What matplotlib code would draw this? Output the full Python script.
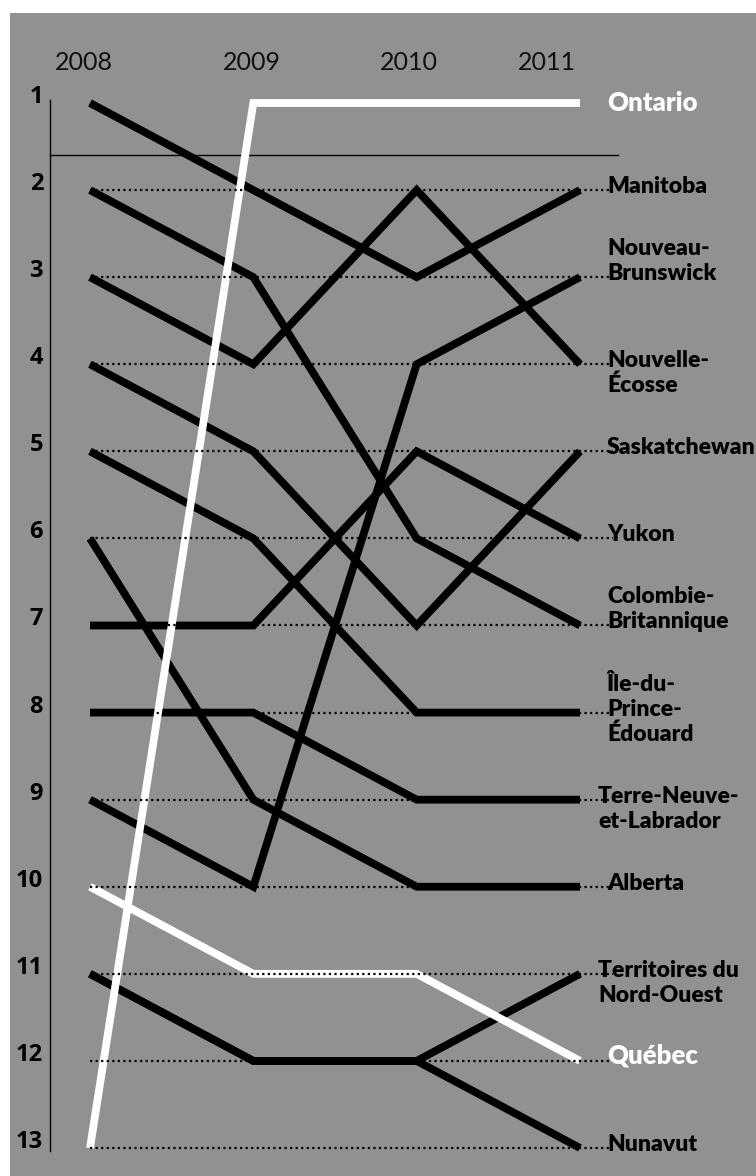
import matplotlib
matplotlib.use("Agg")
import matplotlib.pyplot as plt

# ---------------- data ----------------
years = [2008, 2009, 2010, 2011]
provinces = ["Ontario", "Manitoba", "Nouveau-\nBrunswick", "Nouvelle-\nÉcosse",
             "Saskatchewan", "Yukon", "Colombie-\nBritannique",
             "Île-du-\nPrince-\nÉdouard", "Terre-Neuve-\net-Labrador", "Alberta",
             "Territoires du\nNord-Ouest", "Québec", "Nunavut"]
ranks = [
    [13, 1, 1, 1],     # Ontario
    [1, 2, 3, 2],      # Manitoba
    [9, 10, 4, 3],     # Nouveau-Brunswick
    [3, 4, 2, 4],      # Nouvelle-Écosse
    [4, 5, 7, 5],      # Saskatchewan
    [7, 7, 5, 6],      # Yukon
    [2, 3, 6, 7],      # Colombie-Britannique
    [5, 6, 8, 8],      # Île-du-Prince-Édouard
    [8, 8, 9, 9],      # Terre-Neuve-et-Labrador
    [6, 9, 10, 10],    # Alberta
    [11, 12, 12, 11],  # Territoires du Nord-Ouest
    [10, 11, 11, 12],  # Québec
    [11, 12, 12, 13],  # Nunavut
]
highlight = ["Ontario", "Québec"]
rank_ticks = list(range(1, 14))

# ---------------- style ----------------
BG = "#919191"
W, H, DPI = 756, 1176, 100
anchor_line = {"Nouveau-\nBrunswick": 1, "Colombie-\nBritannique": 1,
               "Île-du-\nPrince-\nÉdouard": 1}
label_dx_px = {"Terre-Neuve-\net-Labrador": 18, "Territoires du\nNord-Ouest": 18}
LINE_PX = 25
LW = 5.6

fig = plt.figure(figsize=(W / DPI, H / DPI), dpi=DPI, facecolor="white")
ax = fig.add_axes([10 / W, 0, (W - 10) / W, (H - 13) / H], facecolor=BG)

px_per_year = (580 - 90) / 3
px_per_rank = (1148 - 103) / 12
ax.set_xlim(2008 - 80 / px_per_year, 2011 + 176 / px_per_year)
ax.set_ylim(13 + 28 / px_per_rank, 1 - 90 / px_per_rank)

for s in ["top", "right", "bottom"]:
    ax.spines[s].set_visible(False)
ax.spines["left"].set_position(("axes", 40 / (W - 10)))
ax.spines["left"].set_bounds(0.965, 13.03)
ax.spines["left"].set_linewidth(1.0)
ax.set_xticks([])
ax.set_yticks(rank_ticks)
ax.set_yticklabels([str(r) for r in rank_ticks], fontfamily="Open Sans",
                   fontweight="bold", fontsize=17)
ax.tick_params(axis="y", length=0, pad=5)
for lbl in ax.get_yticklabels():
    lbl.set_va("baseline")

# separator under rank 1
ax.plot([40 / (W - 10), 608 / (W - 10)], [1.6, 1.6], color="black", lw=1.0,
        transform=ax.get_yaxis_transform(), zorder=2)

# dotted guide lines
for r in rank_ticks[1:]:
    ax.plot([2008.0, 2011.2], [r, r], color="black", lw=1.6,
            linestyle=(0, (1, 1.5)), zorder=6)

# lines
for name, rk in zip(provinces, ranks):
    white = name in highlight
    ax.plot(years, rk, color="white" if white else "black", lw=LW,
            solid_capstyle="butt", solid_joinstyle="miter",
            zorder=5 if white else 4)

# year labels
year_shift = [-0.04, -0.01, -0.05, -0.20]
for y, sh in zip(years, year_shift):
    ax.text(y + sh, 0.54, str(y), ha="center", va="center",
            fontfamily="Lato", fontweight="normal", fontsize=18, color="#111111")

# right labels
for name, rk in zip(provinces, ranks):
    white = name in highlight
    lines = name.split("\n")
    k = anchor_line.get(name, 0)
    dx = label_dx_px.get(name, 27)
    base = 8 if name == "Ontario" else 3
    for i, ln in enumerate(lines):
        dy_px = (k - i) * LINE_PX - base
        ax.annotate(ln, xy=(years[-1], rk[-1]), xycoords="data",
                    xytext=(dx * 72 / DPI, dy_px * 72 / DPI),
                    textcoords="offset points", ha="left", va="baseline",
                    fontfamily="Lato", fontweight="heavy",
                    fontsize=18.5 if white else 16.5,
                    color="white" if white else "black", zorder=7)

fig.savefig("out.png", dpi=DPI, facecolor="white")
